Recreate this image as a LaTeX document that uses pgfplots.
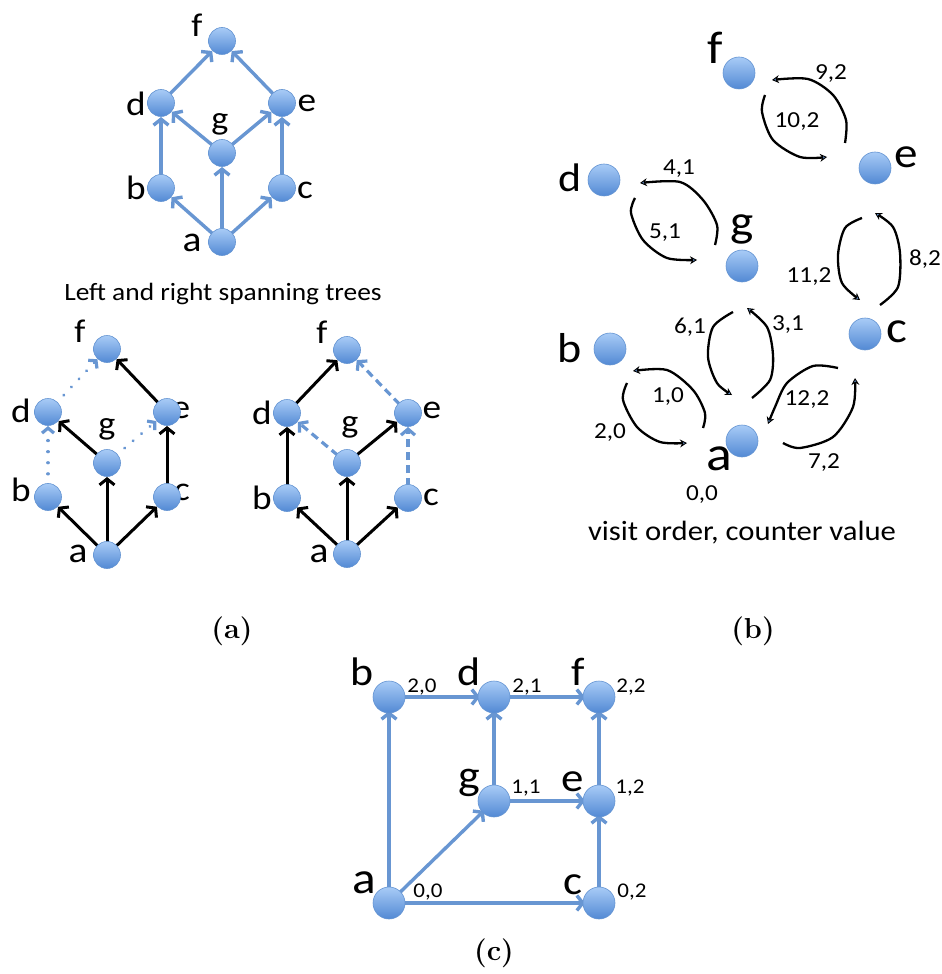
\documentclass[border=0pt]{standalone}
\usepackage{pgfplots}
\pgfplotsset{compat=1.18}
\usepackage{pgfplotstable}
\usepackage{fontspec}
\newfontfamily\calfont[FakeStretch=1.1]{Carlito}
\usetikzlibrary{arrows.meta}

\definecolor{nodetop}{RGB}{168,203,246}
\definecolor{nodebot}{RGB}{82,137,212}
\definecolor{nodeline}{RGB}{100,148,210}
\definecolor{edgeblue}{RGB}{104,150,210}

% node positions (pixel coordinates, y downwards)
\pgfplotstableread{
x y
222 242
161 188
282 188
161 103
282 103
222 41
222 153
}\nodesAtop
\pgfplotstableread{
x y
107 555
48 497
167 497
48 412
167 412
107 349
107 463
}\nodesAleft
\pgfplotstableread{
x y
347 554
287 498
408 498
287 413
408 413
347 350
347 463
}\nodesAright
\pgfplotstableread{
x y
742 441
610 349
865 334
604 180
875 168
739 73
742 266
}\nodesB
\pgfplotstableread{
x y
389 903
389 697
599 903
494 697
599 801
599 697
494 801
}\nodesC

\pgfplotsset{
  gnodes/.style={draw=none, mark=none, nodes near coords={}, nodes near coords align={center},
    every node near coord/.style={circle, inner sep=0pt, minimum size=#1, top color=nodetop,
      bottom color=nodebot, draw=nodeline, line width=0.6bp, anchor=center}},
  blueedge/.style={edgeblue, line width=3.4bp, mark=none,
    -{Straight Barb[length=6bp,width=15bp]}, shorten <=12bp, shorten >=14bp},
  blackedge/.style={black, line width=3bp, mark=none,
    -{Straight Barb[length=6bp,width=15bp]}, shorten <=12bp, shorten >=14bp},
  dotedge/.style={edgeblue, line width=3.2bp, mark=none, dash pattern=on 0.1bp off 11bp, line cap=round,
    -{Straight Barb[length=5bp,width=12bp,line cap=butt]}, shorten <=12bp, shorten >=14bp},
  dashedge/.style={edgeblue, line width=3.2bp, mark=none, dash pattern=on 8bp off 5bp,
    -{Straight Barb[length=6bp,width=14bp]}, shorten <=12bp, shorten >=14bp},
  loopedge/.style={black, line width=2.3bp, mark=none, smooth,
    -{Stealth[length=7bp,width=8bp,fill=edgeblue,line width=0.9bp]}},
}
\newcommand{\edge}[5]{\addplot[#1] coordinates {(#2,#3) (#4,#5)};}
\newcommand{\lab}[4]{\node[font=\calfont\fontsize{#3}{#3}\selectfont, inner sep=0pt, anchor=center] at (axis cs:#1,#2) {#4};}
\newcommand{\num}[4]{\node[font=\calfont\fontsize{#3}{#3}\selectfont, inner sep=0pt, anchor=base] at (axis cs:#1,#2) {#4};}

\begin{document}
\begin{tikzpicture}
\begin{axis}[
  width=942bp, height=974bp, scale only axis,
  xmin=0, xmax=942, ymin=0, ymax=974, y dir=reverse,
  hide axis, clip=false,
]
\path (rel axis cs:0,0) rectangle (rel axis cs:1,1);

% ---------- (a) top graph ----------
\edge{blueedge}{222}{242}{161}{188}
\edge{blueedge}{222}{242}{222}{153}
\edge{blueedge}{222}{242}{282}{188}
\edge{blueedge}{161}{188}{161}{103}
\edge{blueedge}{222}{153}{161}{103}
\edge{blueedge}{222}{153}{282}{103}
\edge{blueedge}{282}{188}{282}{103}
\edge{blueedge}{161}{103}{222}{41}
\edge{blueedge}{282}{103}{222}{41}
\addplot[gnodes=27bp] table {\nodesAtop};

% ---------- (a) left spanning tree ----------
\edge{blackedge}{107}{555}{48}{497}
\edge{blackedge}{107}{555}{107}{463}
\edge{blackedge}{107}{555}{167}{497}
\edge{dotedge}{48}{497}{48}{412}
\edge{blackedge}{107}{463}{48}{412}
\edge{dotedge}{107}{463}{167}{412}
\edge{blackedge}{167}{497}{167}{412}
\edge{dotedge}{48}{412}{107}{349}
\edge{blackedge}{167}{412}{107}{349}
\addplot[gnodes=27bp] table {\nodesAleft};

% ---------- (a) right spanning tree ----------
\edge{blackedge}{347}{554}{287}{498}
\edge{blackedge}{347}{554}{347}{463}
\edge{blackedge}{347}{554}{408}{498}
\edge{blackedge}{287}{498}{287}{413}
\edge{dashedge}{347}{463}{287}{413}
\edge{blackedge}{347}{463}{408}{413}
\edge{dashedge}{408}{498}{408}{413}
\edge{blackedge}{287}{413}{347}{350}
\edge{dashedge}{408}{413}{347}{350}
\addplot[gnodes=27bp] table {\nodesAright};

% ---------- (b) traversal ----------
\addplot[gnodes=32bp] table {\nodesB};
\addplot[loopedge] coordinates {(845,143) (846,120) (833,95) (808,79) (772,80)};
\addplot[loopedge] coordinates {(765,95) (762,112) (773,140) (800,157) (827,157)};
\addplot[loopedge] coordinates {(715,245) (717,225) (703,200) (680,182) (640,183)};
\addplot[loopedge] coordinates {(635,198) (631,213) (643,240) (667,258) (697,260)};
\addplot[loopedge] coordinates {(862,218) (845,228) (838,255) (842,283) (860,300)};
\addplot[loopedge] coordinates {(880,305) (898,287) (900,253) (893,227) (875,213)};
\addplot[loopedge] coordinates {(752,398) (770,380) (773,355) (767,327) (747,308)};
\addplot[loopedge] coordinates {(733,312) (713,327) (708,357) (717,383) (732,395)};
\addplot[loopedge] coordinates {(703,428) (705,413) (693,390) (667,370) (633,371)};
\addplot[loopedge] coordinates {(627,383) (623,400) (637,427) (660,442) (687,443)};
\addplot[loopedge] coordinates {(838,368) (813,366) (787,383) (775,407) (768,424)};
\addplot[loopedge] coordinates {(783,443) (800,448) (833,437) (853,407) (855,378)};

% ---------- (c) grid ----------
\edge{blueedge}{389}{903}{389}{697}
\edge{blueedge}{389}{697}{494}{697}
\edge{blueedge}{494}{697}{599}{697}
\edge{blueedge}{494}{801}{494}{697}
\edge{blueedge}{494}{801}{599}{801}
\edge{blueedge}{599}{801}{599}{697}
\edge{blueedge}{599}{903}{599}{801}
\edge{blueedge}{389}{903}{494}{801}
\edge{blueedge}{389}{903}{599}{903}
\addplot[gnodes=32bp] table {\nodesC};

% ---------- labels (a) ----------
\lab{197}{25}{33}{f}
\lab{136}{104}{34}{d}
\lab{307}{103}{34}{e}
\lab{220}{124}{33}{g}
\lab{136}{188}{34}{b}
\lab{305}{190}{34}{c}
\lab{192}{243}{36}{a}
\num{223}{300}{25}{Left and right spanning trees}
\lab{80}{331}{33}{f}
\lab{21}{411}{34}{d}
\lab{181}{410}{34}{e}
\lab{107}{429}{33}{g}
\lab{21}{490}{34}{b}
\lab{182}{492}{34}{c}
\lab{78}{554}{36}{a}
\lab{322}{332}{33}{f}
\lab{262}{413}{34}{d}
\lab{432}{410}{34}{e}
\lab{350}{427}{33}{g}
\lab{262}{498}{34}{b}
\lab{431}{497}{34}{c}
\lab{319}{554}{36}{a}
\node[font=\bfseries\fontsize{29}{29}\selectfont, inner sep=0pt] at (axis cs:232,631) {(a)};

% ---------- labels (b) ----------
\lab{715}{48}{46}{f}
\lab{570}{178}{40}{d}
\lab{906}{157}{43}{e}
\lab{742}{229}{45}{g}
\lab{897}{332}{45}{c}
\lab{570}{348}{42}{b}
\lab{719}{459}{49}{a}
\num{831}{80}{23}{9,2}
\num{797}{128}{23}{10,2}
\num{679}{175}{23}{4,1}
\num{665}{238}{23}{5,1}
\num{809}{282}{23}{11,2}
\num{925}{265}{23}{8,2}
\num{690}{333}{23}{6,1}
\num{788}{330}{23}{3,1}
\num{668}{402}{23}{1,0}
\num{610}{438}{23}{2,0}
\num{807}{405}{23}{12,2}
\num{824}{468}{23}{7,2}
\num{702}{500}{23}{0,0}
\num{742}{540}{28}{visit order, counter value}
\node[font=\bfseries\fontsize{29}{29}\selectfont, inner sep=0pt] at (axis cs:753,631) {(b)};

% ---------- labels (c) ----------
\lab{362}{672}{40}{b}
\lab{469}{672}{40}{d}
\lab{578}{672}{40}{f}
\lab{469}{783}{42}{g}
\lab{573}{782}{41}{e}
\lab{364}{883}{45}{a}
\lab{573}{885}{41}{c}
\num{422}{692}{21}{2,0}
\num{527}{692}{21}{2,1}
\num{631}{692}{21}{2,2}
\num{526}{793}{21}{1,1}
\num{630}{793}{21}{1,2}
\num{428}{897}{21}{0,0}
\num{632}{897}{21}{0,2}
\node[font=\bfseries\fontsize{29}{29}\selectfont, inner sep=0pt] at (axis cs:494,953) {(c)};
\end{axis}
\end{tikzpicture}
\end{document}
